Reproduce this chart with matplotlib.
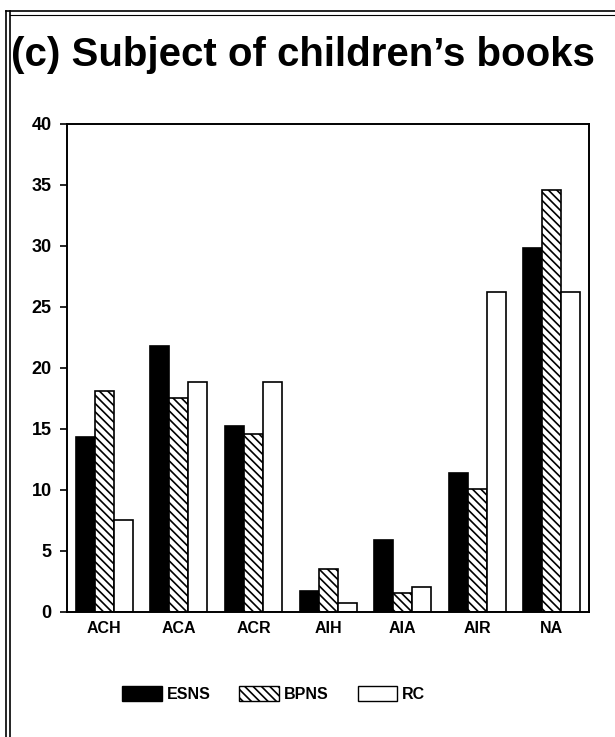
import numpy as np
import matplotlib.pyplot as plt
from matplotlib.patches import Patch
from matplotlib.lines import Line2D

plt.rcParams['font.family'] = ['Liberation Sans', 'DejaVu Sans']
plt.rcParams['hatch.linewidth'] = 1.2

# Data
categories = ["ACH", "ACA", "ACR", "AIH", "AIA", "AIR", "NA"]
esns = [14.3, 21.8, 15.2, 1.7, 5.9, 11.4, 29.8]
bpns = [18.1, 17.5, 14.6, 3.5, 1.5, 10.1, 34.6]
rc = [7.5, 18.8, 18.8, 0.7, 2.0, 26.2, 26.2]

fig = plt.figure(figsize=(6.15, 7.37), dpi=100)
ax = fig.add_axes([0.109, 0.170, 0.849, 0.662])

x = np.arange(len(categories))
w = 0.255
ax.bar(x - w, esns, w, color='black', edgecolor='black', linewidth=1.2)
ax.bar(x, bpns, w, color='white', edgecolor='black', hatch='\\\\\\\\', linewidth=1.2)
ax.bar(x + w, rc, w, color='white', edgecolor='black', linewidth=1.2)

ax.set_xlim(-0.5, len(categories) - 0.5)
ax.set_ylim(0, 40)
ax.set_yticks(range(0, 41, 5))
ax.set_xticks(x)
ax.set_xticklabels(categories, fontsize=11.5, fontweight='bold')
ax.tick_params(axis='x', length=0, pad=7)
ax.tick_params(axis='y', direction='out', length=5, width=1.2, labelsize=13, pad=6)
for lab in ax.get_yticklabels():
    lab.set_fontweight('bold')
for s in ax.spines.values():
    s.set_linewidth(1.4)

fig.text(0.018, 0.925, "(c) Subject of children\u2019s books", fontsize=29,
         fontweight='bold', ha='left', va='center')

handles = [Patch(facecolor='black', edgecolor='black'),
           Patch(facecolor='white', edgecolor='black', hatch='\\\\\\\\'),
           Patch(facecolor='white', edgecolor='black')]
fig.legend(handles, ["ESNS", "BPNS", "RC"], loc='center', bbox_to_anchor=(0.445, 0.058),
           ncol=3, frameon=False, handlelength=2.5, handleheight=1.0,
           columnspacing=1.8, handletextpad=0.3, prop={'weight': 'bold', 'size': 11.5})

# page border (double line on left, line on top)
for xx in (0.009, 0.016):
    fig.add_artist(Line2D([xx, xx], [0, 0.985], color='black', lw=1.2))
fig.add_artist(Line2D([0.009, 1.0], [0.985, 0.985], color='black', lw=1.2))
fig.add_artist(Line2D([0.016, 1.0], [0.979, 0.979], color='black', lw=0.8))

fig.savefig("out.png", dpi=100)
